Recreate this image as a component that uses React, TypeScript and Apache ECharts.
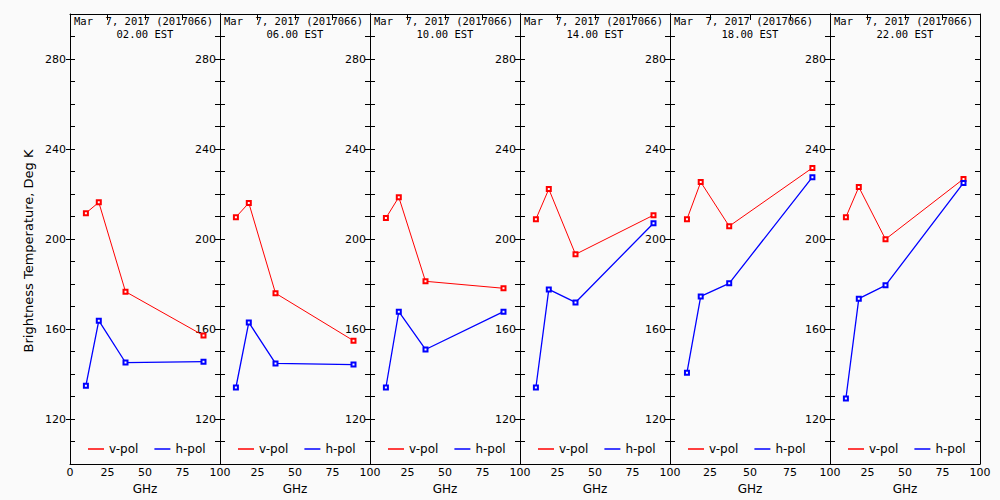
import React, { useEffect, useRef } from "react";
import * as echarts from "echarts";

const times = ["02.00", "06.00", "10.00", "14.00", "18.00", "22.00"];
const dateLabel = "Mar  7, 2017 (2017066)";
const freqs = [10.6, 19.2, 37.0, 89.0];
const vPol = [
  [211.5, 216.3, 176.6, 157.1],
  [209.7, 216.0, 175.9, 154.8],
  [209.3, 218.6, 181.2, 178.1],
  [208.8, 222.2, 193.2, 210.6],
  [208.8, 225.3, 205.7, 231.6],
  [209.7, 223.1, 199.9, 226.7],
];
const hPol = [
  [134.8, 163.7, 145.1, 145.5],
  [134.0, 162.9, 144.7, 144.2],
  [134.0, 167.7, 150.9, 167.7],
  [134.0, 177.6, 171.8, 207.0],
  [140.6, 174.5, 180.3, 227.5],
  [129.1, 173.5, 179.4, 224.9],
];
const yTickLabels = [120, 160, 200, 240, 280];
const seriesNames = ["v-pol", "h-pol"];

const panelLeft = [70, 220, 370, 520, 670, 830];
const panelWidth = [150, 150, 150, 150, 160, 150];
const FONT = "DejaVu Sans";
const MONO = "DejaVu Sans Mono";
const RED = "#ff0000";
const BLUE = "#0000ff";

export default function App() {
  const ref = useRef<HTMLDivElement>(null);
  useEffect(() => {
    if (!ref.current) return;
    const chart = echarts.init(ref.current, null, { renderer: "svg" });
    const grid: any[] = [];
    const xAxis: any[] = [];
    const yAxis: any[] = [];
    const series: any[] = [];
    const legend: any[] = [];
    const graphic: any[] = [];
    const axisLineStyle = { show: true, lineStyle: { color: "#000", width: 1 } };

    times.forEach((t, i) => {
      const L = panelLeft[i];
      const W = panelWidth[i];
      grid.push({ left: L, width: W, top: 14, height: 450, containLabel: false });
      xAxis.push({
        type: "value",
        gridIndex: i,
        position: "bottom",
        min: 0,
        max: 100,
        interval: 25,
        axisLine: axisLineStyle,
        axisTick: { show: false },
        splitLine: { show: false },
        axisLabel: {
          color: "#000",
          fontSize: 11,
          fontFamily: FONT,
          margin: 3,
          showMinLabel: i === 0,
          showMaxLabel: true,
        },
        name: "GHz",
        nameLocation: "middle",
        nameGap: 13,
        nameTextStyle: { color: "#000", fontSize: 12, fontFamily: FONT },
      });
      xAxis.push({
        type: "value",
        gridIndex: i,
        position: "top",
        min: 0,
        max: 100,
        interval: 25,
        axisLine: axisLineStyle,
        axisTick: { show: true, inside: true, length: 6, lineStyle: { color: "#000" } },
        splitLine: { show: false },
        axisLabel: { show: false },
      });
      yAxis.push({
        type: "value",
        gridIndex: i,
        position: "left",
        min: 100,
        max: 300,
        interval: 10,
        axisLine: axisLineStyle,
        axisTick: { show: true, inside: true, length: 5, lineStyle: { color: "#000" } },
        splitLine: { show: false },
        axisLabel: {
          color: "#000",
          fontSize: 11,
          fontFamily: FONT,
          margin: 4,
          formatter: (v: number) => (yTickLabels.includes(v) ? String(v) : ""),
        },
      });
      yAxis.push({
        type: "value",
        gridIndex: i,
        position: "left",
        min: 100,
        max: 300,
        axisLine: { show: false },
        axisTick: {
          show: true,
          inside: false,
          length: 4,
          customValues: yTickLabels,
          lineStyle: { color: "#000" },
        },
        splitLine: { show: false },
        axisLabel: { show: false },
      });
      yAxis.push({
        type: "value",
        gridIndex: i,
        position: "right",
        min: 100,
        max: 300,
        interval: 10,
        axisLine: axisLineStyle,
        axisTick: { show: true, inside: true, length: 5, lineStyle: { color: "#000" } },
        splitLine: { show: false },
        axisLabel: { show: false },
      });
      series.push({
        type: "line",
        name: seriesNames[0],
        xAxisIndex: 2 * i,
        yAxisIndex: 3 * i,
        data: freqs.map((f, k) => [f, vPol[i][k]]),
        symbol: "emptyRect",
        symbolSize: 4,
        itemStyle: { color: RED, borderWidth: 1 },
        lineStyle: { color: RED, width: 1 },
      });
      series.push({
        type: "line",
        name: seriesNames[1],
        xAxisIndex: 2 * i,
        yAxisIndex: 3 * i,
        data: freqs.map((f, k) => [f, hPol[i][k]]),
        symbol: "emptyRect",
        symbolSize: 4,
        itemStyle: { color: BLUE, borderWidth: 1 },
        lineStyle: { color: BLUE, width: 1.3 },
      });
      legend.push({
        left: L + 18,
        top: 443,
        padding: 0,
        itemGap: 16,
        itemWidth: 16,
        itemHeight: 1.5,
        icon: "rect",
        data: seriesNames,
        selectedMode: false,
        textStyle: { color: "#000", fontSize: 12, fontFamily: FONT },
      });
      graphic.push({
        type: "text",
        x: L + 4,
        y: 21,
        style: {
          text: dateLabel,
          fill: "#000",
          fontSize: 10.5,
          lineHeight: 11,
          fontFamily: MONO,
          verticalAlign: "middle",
          align: "left",
        },
      });
      graphic.push({
        type: "text",
        x: L + W / 2,
        y: 34,
        style: {
          text: t + " EST",
          fill: "#000",
          fontSize: 10.5,
          lineHeight: 11,
          fontFamily: MONO,
          verticalAlign: "middle",
          align: "center",
        },
      });
    });

    graphic.push({
      type: "text",
      x: 28,
      y: 251,
      rotation: Math.PI / 2,
      style: {
        text: "Brightness Temperature, Deg K",
        fill: "#000",
        fontSize: 13,
        fontFamily: FONT,
        align: "center",
        verticalAlign: "middle",
      },
    });

    chart.setOption({
      animation: false,
      backgroundColor: "#fafafa",
      textStyle: { fontFamily: FONT },
      grid,
      xAxis,
      yAxis,
      series,
      legend,
      graphic,
    });
    return () => chart.dispose();
  }, []);
  return (
    <div
      ref={ref}
      style={{ position: "absolute", left: 0, top: 0, width: 1000, height: 500, background: "#fafafa" }}
    />
  );
}
